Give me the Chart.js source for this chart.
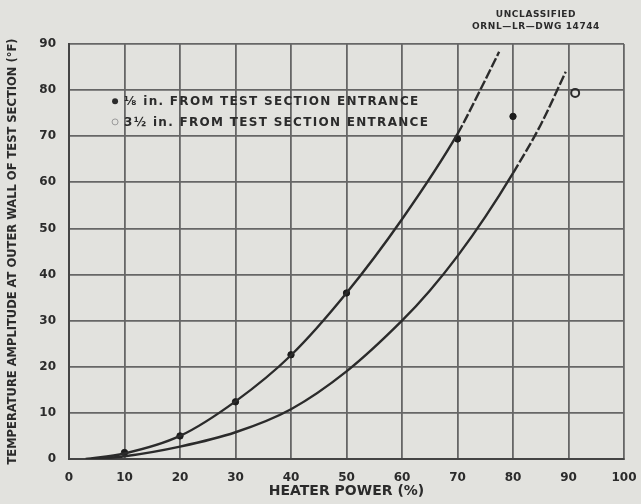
<!DOCTYPE html>
<html lang="en">
<head>
  <meta charset="UTF-8" />
  <title>Temperature amplitude vs heater power</title>
  <script src="https://cdn.jsdelivr.net/npm/chart.js"></script>
  <style>
    html, body { margin: 0; padding: 0; background: #e2e2de; }
    #wrap { width: 641px; height: 504px; }
  </style>
</head>
<body>
  <div id="wrap"><canvas id="chart" width="641" height="504"></canvas></div>

  <script>
    // data
    const xTicks = [0, 10, 20, 30, 40, 50, 60, 70, 80, 90, 100];
    const yTicks = [0, 10, 20, 30, 40, 50, 60, 70, 80, 90];

    // measured points, 1/8 in. from entrance (filled)
    const nearPowerPct = [10, 20, 30, 40, 50, 70, 80];
    const nearAmplitude = [1.4, 5, 12.4, 22.6, 36, 69.4, 74.3];
    // measured point, 3 1/2 in. from entrance (open)
    const farPowerPct = [91.2];
    const farAmplitude = [79.4];

    // faired curves
    const nearCurveX = [3, 10, 20, 30, 40, 50, 60, 70, 74, 77.5];
    const nearCurveY = [0, 1.2, 5, 12.5, 22.5, 36, 52, 70.5, 79.8, 88.3];
    const farCurveX = [4, 10, 20, 30, 40, 50, 60, 65, 70, 75, 80, 85, 89.5];
    const farCurveY = [0, 0.6, 2.7, 5.8, 10.8, 19, 30, 36.5, 44, 52.5, 62, 72.5, 84];

    const legendLabels = ['\u215B in. FROM TEST SECTION ENTRANCE', '3\u00BD in. FROM TEST SECTION ENTRANCE'];
    const stampLines = ['UNCLASSIFIED', 'ORNL\u2014LR\u2014DWG 14744'];

    const ink = '#2b2b2b';
    const gridInk = '#666';
    const FONT = '"DejaVu Sans", "Liberation Sans", sans-serif';

    const zip = (xs, ys) => xs.map((x, i) => ({ x: x, y: ys[i] }));

    // legend + drawing stamp, drawn in the plot like the original
    const notes = {
      id: 'notes',
      afterDraw(chart) {
        const ctx = chart.ctx;
        const xs = chart.scales.x, ys = chart.scales.y;
        ctx.save();
        ctx.fillStyle = ink;
        ctx.strokeStyle = ink;
        ctx.font = 'bold 12px ' + FONT;
        ctx.letterSpacing = '1.3px';
        ctx.textBaseline = 'middle';
        const rows = [77.6, 73.1];
        legendLabels.forEach((label, i) => {
          const px = xs.getPixelForValue(8.3);
          const py = ys.getPixelForValue(rows[i]);
          ctx.beginPath();
          ctx.arc(px, py, 3, 0, Math.PI * 2);
          if (i === 0) ctx.fill();
          else { ctx.lineWidth = 1; ctx.strokeStyle = '#999'; ctx.stroke(); ctx.strokeStyle = ink; }
          ctx.fillText(label, px + 9, py + 1);
        });
        ctx.font = 'bold 9px ' + FONT;
        ctx.letterSpacing = '0.6px';
        ctx.textAlign = 'center';
        stampLines.forEach((t, i) => ctx.fillText(t, 536, 15 + i * 12));
        ctx.restore();
      }
    };

    const dashFrom = limit => ctx => (ctx.p0.parsed.x >= limit ? [10, 2.5] : undefined);

    new Chart(document.getElementById('chart'), {
      type: 'line',
      data: {
        datasets: [
          {
            label: 'curve near',
            data: zip(nearCurveX, nearCurveY),
            borderColor: ink,
            borderWidth: 2.4,
            pointRadius: 0,
            cubicInterpolationMode: 'monotone',
            segment: { borderDash: dashFrom(65) }
          },
          {
            label: 'curve far',
            data: zip(farCurveX, farCurveY),
            borderColor: ink,
            borderWidth: 2.4,
            pointRadius: 0,
            cubicInterpolationMode: 'monotone',
            segment: { borderDash: dashFrom(80) }
          },
          {
            label: legendLabels[0],
            data: zip(nearPowerPct, nearAmplitude),
            showLine: false,
            pointRadius: 3.2,
            pointBackgroundColor: '#1c1c1c',
            pointBorderColor: '#1c1c1c'
          },
          {
            label: legendLabels[1],
            data: zip(farPowerPct, farAmplitude),
            showLine: false,
            pointRadius: 4,
            pointBorderWidth: 2,
            pointBackgroundColor: 'rgba(0,0,0,0)',
            pointBorderColor: ink
          }
        ]
      },
      options: {
        responsive: false,
        animation: false,
        layout: { padding: { top: 44, right: 17, left: 0, bottom: 0 } },
        plugins: { legend: { display: false }, tooltip: { enabled: false } },
        scales: {
          x: {
            type: 'linear',
            min: 0,
            max: 100,
            afterFit: s => { s.height = 45; s.paddingLeft = 0; s.paddingRight = 0; },
            afterBuildTicks: s => { s.ticks = xTicks.map(v => ({ value: v })); },
            grid: { color: gridInk, lineWidth: 1.8, drawTicks: false },
            border: { color: '#444', width: 2 },
            ticks: { color: ink, padding: 12, font: { family: FONT, size: 12, weight: 'bold' } },
            title: {
              display: true,
              text: 'HEATER POWER (%)',
              color: ink,
              padding: { bottom: 4, top: 0 },
              font: { family: FONT, size: 14, weight: 'bold' }
            }
          },
          y: {
            type: 'linear',
            min: 0,
            max: 90,
            afterFit: s => { s.width = 69; s.paddingTop = 0; s.paddingBottom = 0; },
            afterBuildTicks: s => { s.ticks = yTicks.map(v => ({ value: v })); },
            grid: { color: gridInk, lineWidth: 1.8, drawTicks: false },
            border: { color: '#444', width: 2 },
            ticks: { color: ink, padding: 13, font: { family: FONT, size: 12, weight: 'bold' } },
            title: {
              display: true,
              text: 'TEMPERATURE AMPLITUDE AT OUTER WALL OF TEST SECTION (\u00B0F)',
              color: ink,
              padding: { top: 6, bottom: 0 },
              font: { family: FONT, size: 11.5, weight: 'bold' }
            }
          }
        }
      },
      plugins: [notes]
    });
  </script>
</body>
</html>
